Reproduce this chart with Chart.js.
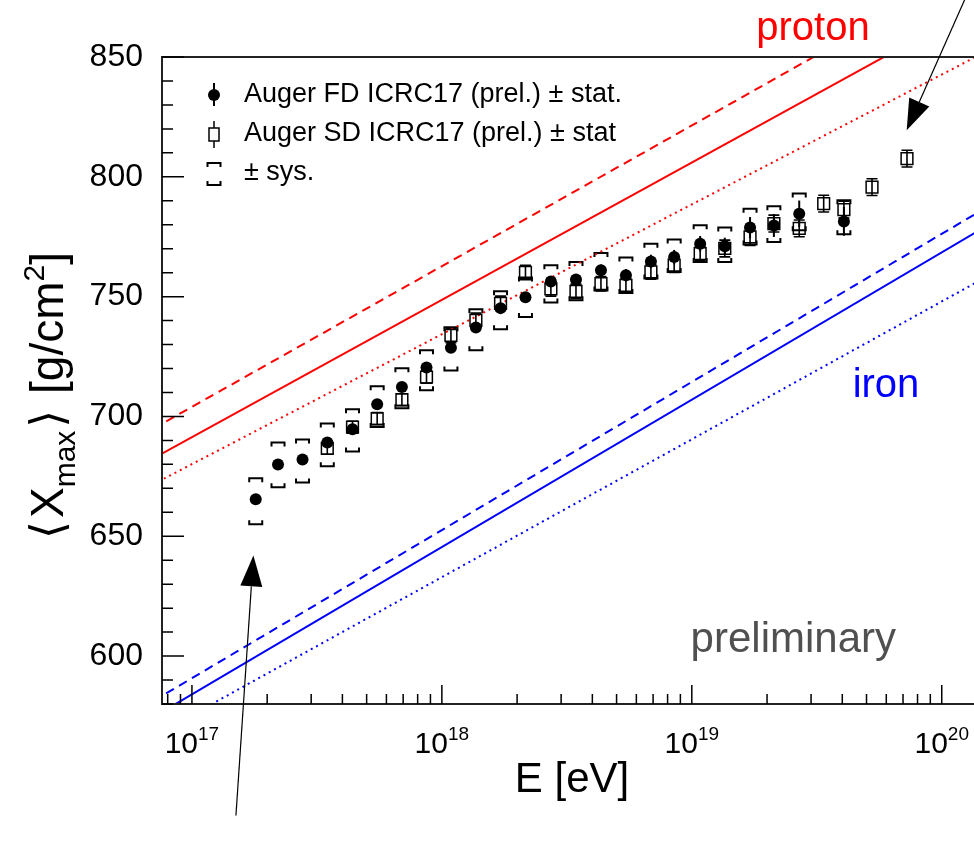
<!DOCTYPE html>
<html>
<head>
<meta charset="utf-8">
<script src="https://cdn.jsdelivr.net/npm/chart.js@4.4.1/dist/chart.umd.min.js"></script>
<style>
  html, body { margin: 0; padding: 0; background: #fff; overflow: hidden; }
  #wrap { width: 974px; height: 843px; }
</style>
</head>
<body>
<div id="wrap"><canvas id="xmaxChart" width="974" height="843"></canvas></div>
<script>
// --- data ---
const energyFD = [1.80e17, 2.21e17, 2.77e17, 3.48e17, 4.39e17, 5.51e17, 6.92e17, 8.68e17,
  1.087e18, 1.368e18, 1.717e18, 2.16e18, 2.73e18, 3.44e18, 4.33e18, 5.45e18, 6.86e18, 8.5e18,
  1.08e19, 1.355e19, 1.71e19, 2.13e19, 2.69e19, 4.06e19];
const xmaxFD = [665.4, 679.9, 682.0, 689.1, 694.7, 705.1, 712.3, 720.4,
  728.7, 737.1, 745.2, 749.7, 756.3, 757.1, 761.0, 758.9, 764.7, 766.5,
  772.1, 771.0, 778.8, 779.7, 784.6, 781.4];
const statFD = [1.5, 1.5, 1.5, 1.5, 1.5, 1.5, 1.5, 1.6,
  1.7, 1.8, 2.0, 2.0, 2.1, 2.2, 2.4, 2.6, 2.8, 3.0,
  3.2, 3.6, 4.4, 4.8, 5.5, 6.0];
const sysUpFD = [8.8, 9.2, 8.4, 8.0, 8.3, 7.5, 7.8, 7.2,
  8.5, 7.6, 7.0, 8.3, 6.8, 7.3, 7.2, 7.4, 7.4, 7.3,
  7.7, 7.8, 7.9, 8.0, 8.4, 8.8];
const sysDownFD = [10.4, 9.5, 9.6, 9.9, 9.3, 9.5, 8.9, 9.5,
  9.5, 9.5, 8.8, 8.2, 8.7, 8.6, 8.4, 7.4, 7.1, 6.2,
  7.7, 6.6, 7.0, 6.9, 6.9, 5.4];

const energySD = [3.48e17, 4.39e17, 5.51e17, 6.92e17, 8.68e17, 1.087e18, 1.368e18, 1.717e18,
  2.16e18, 2.73e18, 3.44e18, 4.33e18, 5.45e18, 6.86e18, 8.5e18, 1.08e19,
  1.355e19, 1.71e19, 2.13e19, 2.69e19, 3.37e19, 4.06e19, 5.26e19, 7.26e19];
const xmaxSD = [686.7, 695.5, 699.1, 707.0, 716.4, 733.8, 740.1, 747.2,
  760.1, 753.2, 752.2, 755.4, 754.7, 760.3, 763.1, 767.9,
  770.1, 774.9, 780.5, 778.5, 788.8, 786.3, 795.7, 807.6];
const statSD = [2.5, 2.5, 2.5, 2.5, 2.5, 3.0, 3.0, 3.0,
  3.0, 3.0, 3.0, 3.0, 3.0, 3.0, 3.0, 3.0,
  3.5, 3.5, 3.5, 3.5, 3.5, 3.5, 3.5, 3.5];

// model lines (end points)
const modelE = [7e16, 2e20];
const protonSolid = [682.5, 880.5];
const protonDashed = [694.9, 897.8];
const protonDotted = [671.7, 859.0];
const ironSolid = [574.5, 787.0];
const ironDashed = [581.2, 794.8];
const ironDotted = [566.5, 765.3];

// axes
const xMin = 7.59e16, xMax = 1.346e20;
const yMin = 580, yMax = 850;
const xTickVals = [1e17, 1e18, 1e19, 1e20];
const xTickExp = ['17', '18', '19', '20'];

// annotations
const sysLabel = '\u00b1 sys.';
const arrowLow = { from: [1.50e17, 533.5], to: [1.762e17, 642.0] };
const arrowHigh = { from: [1.31e20, 879.9], to: [7.24e19, 819.4] };

const FONT = "'Liberation Sans', 'DejaVu Sans', Arial, sans-serif";
const RED = '#ff0000', BLUE = '#0000ff';

const toPts = (xs, ys) => xs.map((x, i) => ({ x: x, y: ys[i] }));

function modelLine(vals, color, dash) {
  return {
    label: '', data: toPts(modelE, vals), showLine: true, pointRadius: 0,
    borderColor: color, borderWidth: 2, borderDash: dash, fill: false
  };
}

function drawRich(ctx, parts, x, y) {
  // parts: {t, size, dy, gap}; centred on x, baseline y
  let total = 0;
  parts.forEach(p => {
    ctx.font = p.size + 'px ' + FONT;
    p.w = ctx.measureText(p.t).width + (p.gap || 0);
    total += p.w;
  });
  let cx = x - total / 2;
  parts.forEach(p => {
    ctx.font = p.size + 'px ' + FONT;
    ctx.fillText(p.t, cx + (p.gap || 0) / 2, y + (p.dy || 0));
    cx += p.w;
  });
}

function arrow(ctx, x0, y0, x1, y1, len, half) {
  const ang = Math.atan2(y1 - y0, x1 - x0);
  const c = Math.cos(ang), s = Math.sin(ang);
  ctx.beginPath();
  ctx.moveTo(x0, y0);
  ctx.lineTo(x1 - len * c, y1 - len * s);
  ctx.stroke();
  ctx.beginPath();
  ctx.moveTo(x1, y1);
  ctx.lineTo(x1 - len * c + half * s, y1 - len * s - half * c);
  ctx.lineTo(x1 - len * c - half * s, y1 - len * s + half * c);
  ctx.closePath();
  ctx.fill();
}

const rootStyle = {
  id: 'rootStyle',
  beforeDatasetsDraw(chart) {
    const { ctx, chartArea: a, scales: { x, y } } = chart;
    ctx.save();
    ctx.beginPath();
    ctx.rect(a.left, a.top, a.right - a.left, a.bottom - a.top);
    ctx.clip();
    ctx.strokeStyle = '#000';

    // FD stat. errors (no caps)
    ctx.lineWidth = 2;
    energyFD.forEach((e, i) => {
      const px = x.getPixelForValue(e);
      ctx.beginPath();
      ctx.moveTo(px, y.getPixelForValue(xmaxFD[i] - statFD[i]));
      ctx.lineTo(px, y.getPixelForValue(xmaxFD[i] + statFD[i]));
      ctx.stroke();
    });

    // SD stat. errors with caps
    ctx.lineWidth = 1.6;
    energySD.forEach((e, i) => {
      const px = x.getPixelForValue(e);
      const lo = y.getPixelForValue(xmaxSD[i] - statSD[i]);
      const hi = y.getPixelForValue(xmaxSD[i] + statSD[i]);
      ctx.beginPath();
      ctx.moveTo(px, lo); ctx.lineTo(px, hi);
      ctx.moveTo(px - 5.5, lo); ctx.lineTo(px + 5.5, lo);
      ctx.moveTo(px - 5.5, hi); ctx.lineTo(px + 5.5, hi);
      ctx.stroke();
    });

    // FD systematic brackets
    ctx.lineWidth = 2;
    energyFD.forEach((e, i) => {
      const px = x.getPixelForValue(e);
      const top = y.getPixelForValue(xmaxFD[i] + sysUpFD[i]);
      const bot = y.getPixelForValue(xmaxFD[i] - sysDownFD[i]);
      ctx.beginPath();
      ctx.moveTo(px - 6.5, top + 4); ctx.lineTo(px - 6.5, top); ctx.lineTo(px + 6.5, top); ctx.lineTo(px + 6.5, top + 4);
      ctx.moveTo(px - 6.5, bot - 4); ctx.lineTo(px - 6.5, bot); ctx.lineTo(px + 6.5, bot); ctx.lineTo(px + 6.5, bot - 4);
      ctx.stroke();
    });
    ctx.restore();
  },
  afterDraw(chart) {
    const { ctx, chartArea: a, scales: { x, y } } = chart;
    ctx.save();

    // frame (right side lies outside the picture)
    ctx.strokeStyle = '#222';
    ctx.lineWidth = 2;
    ctx.beginPath();
    ctx.moveTo(a.right + 5, a.top); ctx.lineTo(a.left, a.top); ctx.lineTo(a.left, a.bottom); ctx.lineTo(a.right + 5, a.bottom);
    ctx.stroke();

    // ticks pointing inwards
    ctx.strokeStyle = '#000';
    ctx.lineWidth = 1.5;
    ctx.beginPath();
    for (let v = yMin; v <= yMax; v += 10) {
      const py = y.getPixelForValue(v);
      const len = v % 50 === 0 ? 22 : 11;
      ctx.moveTo(a.left, py); ctx.lineTo(a.left + len, py);
    }
    for (let d = 16; d <= 20; d++) {
      for (let k = 1; k <= 9; k++) {
        const v = k * Math.pow(10, d);
        if (v < xMin || v > xMax) continue;
        const px = x.getPixelForValue(v);
        const len = k === 1 ? 19 : 10;
        ctx.moveTo(px, a.bottom); ctx.lineTo(px, a.bottom - len);
      }
    }
    ctx.stroke();

    // x tick labels 10^n
    ctx.fillStyle = '#000';
    ctx.textAlign = 'left';
    ctx.textBaseline = 'alphabetic';
    xTickVals.forEach((v, i) => {
      drawRich(ctx, [{ t: '10', size: 30 }, { t: xTickExp[i], size: 19, dy: -13 }], x.getPixelForValue(v), 753);
    });

    // axis titles
    drawRich(ctx, [{ t: 'E [eV]', size: 42 }], 572, 792);
    ctx.save();
    ctx.translate(63, 397);
    ctx.rotate(-Math.PI / 2);
    drawRich(ctx, [
      { t: '\u27e8', size: 46, gap: 6 }, { t: 'X', size: 46 }, { t: 'max', size: 30, dy: 12 },
      { t: '\u27e9', size: 46, gap: 6 }, { t: ' [g/cm', size: 46 },
      { t: '2', size: 30, dy: -19 }, { t: ']', size: 46 }
    ], 0, 0);
    ctx.restore();

    // legend
    const lx = 214;
    ctx.fillStyle = '#000';
    ctx.strokeStyle = '#000';
    ctx.lineWidth = 2;
    ctx.beginPath(); ctx.moveTo(lx, 83); ctx.lineTo(lx, 106); ctx.stroke();
    ctx.beginPath(); ctx.arc(lx, 95, 6, 0, Math.PI * 2); ctx.fill();
    ctx.lineWidth = 1.5;
    ctx.beginPath(); ctx.moveTo(lx, 121); ctx.lineTo(lx, 148); ctx.stroke();
    ctx.fillStyle = '#fff';
    ctx.fillRect(lx - 5, 128, 10, 13);
    ctx.strokeRect(lx - 5, 128, 10, 13);
    ctx.lineWidth = 2;
    ctx.beginPath();
    ctx.moveTo(lx - 6.5, 167); ctx.lineTo(lx - 6.5, 163); ctx.lineTo(lx + 6.5, 163); ctx.lineTo(lx + 6.5, 167);
    ctx.moveTo(lx - 6.5, 181); ctx.lineTo(lx - 6.5, 185); ctx.lineTo(lx + 6.5, 185); ctx.lineTo(lx + 6.5, 181);
    ctx.stroke();
    ctx.fillStyle = '#000';
    ctx.font = '27px ' + FONT;
    ctx.textAlign = 'left';
    ctx.fillText(chart.data.datasets[0].label, 244, 102);
    ctx.fillText(chart.data.datasets[1].label, 244, 141);
    ctx.fillText(sysLabel, 244, 180);

    // text labels
    ctx.textAlign = 'center';
    ctx.font = '40px ' + FONT;
    ctx.fillStyle = RED;
    ctx.fillText('proton', 813, 40);
    ctx.fillStyle = BLUE;
    ctx.fillText('iron', 886, 397);
    ctx.fillStyle = '#505050';
    ctx.textAlign = 'right';
    ctx.font = '42px ' + FONT;
    ctx.fillText('preliminary', 896, 652);

    // arrows
    ctx.fillStyle = '#000';
    ctx.strokeStyle = '#000';
    ctx.lineWidth = 1.2;
    [arrowLow, arrowHigh].forEach(ar => {
      arrow(ctx, x.getPixelForValue(ar.from[0]), y.getPixelForValue(ar.from[1]),
        x.getPixelForValue(ar.to[0]), y.getPixelForValue(ar.to[1]), 31, 11);
    });
    ctx.restore();
  }
};

new Chart(document.getElementById('xmaxChart'), {
  type: 'scatter',
  data: {
    datasets: [
      { label: 'Auger FD ICRC17 (prel.) \u00b1 stat.', data: toPts(energyFD, xmaxFD), pointStyle: 'circle',
        pointRadius: 6, backgroundColor: '#000', borderColor: '#000', borderWidth: 0 },
      { label: 'Auger SD ICRC17 (prel.) \u00b1 stat', data: toPts(energySD, xmaxSD), pointStyle: 'rect',
        pointRadius: 8.3, backgroundColor: 'rgba(255,255,255,0)', borderColor: '#000', borderWidth: 1.5 },
      modelLine(protonSolid, RED, []),
      modelLine(protonDashed, RED, [9, 6]),
      modelLine(protonDotted, RED, [2, 4]),
      modelLine(ironSolid, BLUE, []),
      modelLine(ironDashed, BLUE, [9, 6]),
      modelLine(ironDotted, BLUE, [2, 4])
    ]
  },
  options: {
    responsive: false,
    animation: false,
    events: [],
    layout: { autoPadding: false, padding: { top: 57, right: 0, left: 0, bottom: 0 } },
    plugins: { legend: { display: false }, tooltip: { enabled: false } },
    scales: {
      x: {
        type: 'logarithmic', min: xMin, max: xMax,
        grid: { display: false }, border: { display: false }, ticks: { display: false },
        afterFit: s => { s.height = 139; }
      },
      y: {
        min: yMin, max: yMax,
        ticks: { stepSize: 50, includeBounds: false, color: '#000', padding: 19, font: { family: FONT, size: 32 } },
        grid: { display: false, drawTicks: false }, border: { display: false },
        afterFit: s => { s.width = 162; }
      }
    }
  },
  plugins: [rootStyle]
});
</script>
</body>
</html>
